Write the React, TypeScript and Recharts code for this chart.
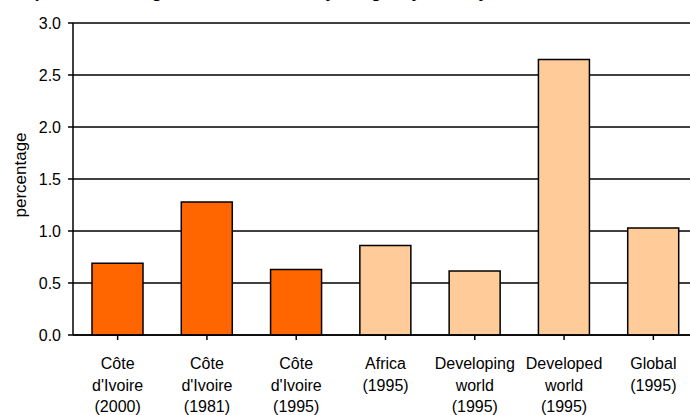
import { BarChart, Bar, XAxis, YAxis, CartesianGrid, Cell } from "recharts";

const FONT = "Arial, 'Liberation Sans', sans-serif";
const DARK = "#ff6600";
const LIGHT = "#ffcc99";

// x labels, one string per line
const categories = [
  ["Côte", "d'Ivoire", "(2000)"],
  ["Côte", "d'Ivoire", "(1981)"],
  ["Côte", "d'Ivoire", "(1995)"],
  ["Africa", "(1995)"],
  ["Developing", "world", "(1995)"],
  ["Developed", "world", "(1995)"],
  ["Global", "(1995)"],
];
const values = [0.69, 1.28, 0.63, 0.86, 0.615, 2.65, 1.03];
const groups = ["country", "country", "country", "region", "region", "region", "region"];
const yTicks = [0, 0.5, 1, 1.5, 2, 2.5, 3];

const data = categories.map((lines, i) => ({
  name: lines.join("\n"),
  value: values[i],
  group: groups[i],
}));

function CategoryTick(props: any) {
  const { x, y, payload } = props;
  const lines = String(payload.value).split("\n");
  return (
    <text x={x} y={y + 27} textAnchor="middle" fill="#000" fontSize={16} fontFamily={FONT}>
      {lines.map((l, i) => (
        <tspan key={i} x={x} dy={i === 0 ? 0 : 21.5}>
          {l}
        </tspan>
      ))}
    </text>
  );
}

function YLabel(props: any) {
  const { viewBox } = props;
  const cx = viewBox.x + 26;
  const cy = viewBox.y + viewBox.height / 2 - 4;
  return (
    <text
      x={cx}
      y={cy}
      transform={`rotate(-90 ${cx} ${cy})`}
      textAnchor="middle"
      fill="#000"
      fontSize={17}
      fontFamily={FONT}
    >
      percentage
    </text>
  );
}

export default function App() {
  return (
    <div
      style={{
        position: "fixed",
        left: 0,
        top: 0,
        width: 690,
        height: 415,
        overflow: "hidden",
        background: "#fff",
      }}
    >
      {/* title is cropped in the reference, only descenders show */}
      <div
        style={{
          position: "absolute",
          left: -40,
          top: -17,
          fontFamily: FONT,
          fontWeight: 700,
          fontSize: 17,
          lineHeight: "20px",
          whiteSpace: "nowrap",
        }}
      >
        Public expenditure on agricultural research by budget by country
      </div>
      <BarChart
        width={700}
        height={415}
        data={data}
        margin={{ top: 23, right: 2, left: 0, bottom: 0 }}
        barSize={51}
      >
        <CartesianGrid vertical={false} stroke="#000" strokeWidth={1.5} />
        <XAxis
          dataKey="name"
          interval={0}
          height={80}
          tick={<CategoryTick />}
          tickSize={5}
          axisLine={{ stroke: "#000", strokeWidth: 1.5 }}
          tickLine={{ stroke: "#000", strokeWidth: 1.5 }}
        />
        <YAxis
          width={73}
          domain={[0, 3]}
          ticks={yTicks}
          tickFormatter={(v: number) => v.toFixed(1)}
          tickSize={5}
          tickMargin={7}
          tick={{ fill: "#000", fontSize: 16, fontFamily: FONT }}
          axisLine={{ stroke: "#000", strokeWidth: 1.5 }}
          tickLine={{ stroke: "#000", strokeWidth: 1.5 }}
          label={<YLabel />}
        />
        <Bar dataKey="value" stroke="#000" strokeWidth={1.5} isAnimationActive={false}>
          {data.map((d, i) => (
            <Cell key={i} fill={d.group === "country" ? DARK : LIGHT} />
          ))}
        </Bar>
      </BarChart>
    </div>
  );
}
